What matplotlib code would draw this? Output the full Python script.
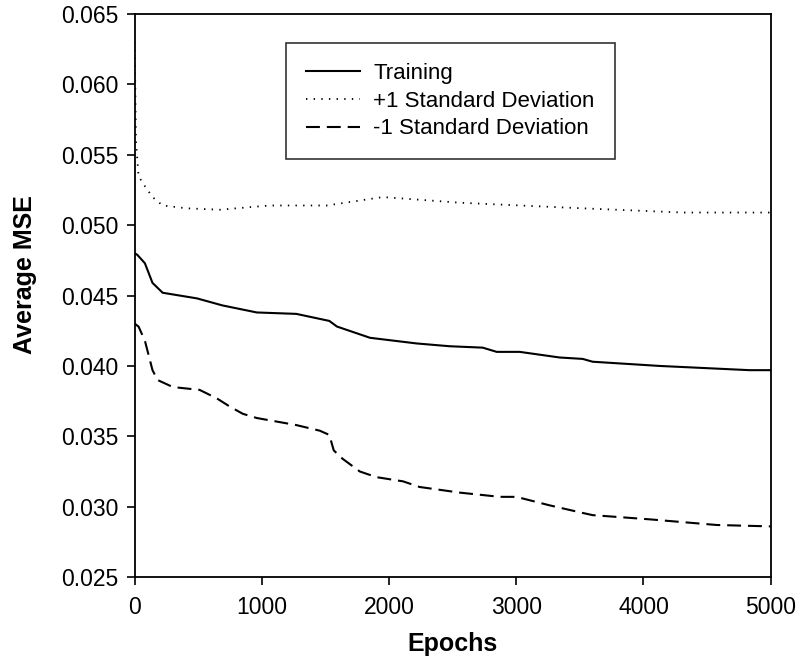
import matplotlib
matplotlib.use("Agg")
import matplotlib.pyplot as plt

plt.rcParams['font.family'] = ['Liberation Sans', 'DejaVu Sans']
plt.rcParams['lines.scale_dashes'] = False

# Data
epochs_train = [0, 20, 80, 140, 220, 490, 690, 960, 1270, 1530, 1590, 1850, 2215,
                2476, 2736, 2846, 3027, 3341, 3522, 3600, 4127, 4835, 5000]
train = [0.0480, 0.0479, 0.0473, 0.0459, 0.0452, 0.0448, 0.0443, 0.0438, 0.0437,
         0.0432, 0.0428, 0.0420, 0.0416, 0.0414, 0.0413, 0.0410, 0.0410, 0.0406,
         0.0405, 0.0403, 0.0400, 0.0397, 0.0397]

epochs_plus = [0, 10, 30, 63, 140, 220, 410, 670, 1060, 1400, 1510, 1950, 2555,
               2790, 3520, 4310, 5000]
plus_sd = [0.0630, 0.0560, 0.0535, 0.0530, 0.0520, 0.0514, 0.0512, 0.0511, 0.0514,
           0.0514, 0.0514, 0.0520, 0.0516, 0.0515, 0.0512, 0.0509, 0.0509]

epochs_minus = [0, 30, 80, 140, 180, 300, 510, 645, 750, 850, 960, 1270, 1455, 1530,
                1565, 1635, 1770, 1900, 2110, 2240, 2555, 2870, 3000, 3260, 3500,
                3600, 4050, 4575, 5000]
minus_sd = [0.0430, 0.0428, 0.0418, 0.0397, 0.0390, 0.0385, 0.0383, 0.0377, 0.0371,
            0.0366, 0.0363, 0.0358, 0.0354, 0.0351, 0.0340, 0.0334, 0.0325, 0.0321,
            0.0318, 0.0314, 0.0310, 0.0307, 0.0307, 0.0301, 0.0296, 0.0294, 0.0291,
            0.0287, 0.0286]

x_ticks = [0, 1000, 2000, 3000, 4000, 5000]
y_ticks = [0.025, 0.030, 0.035, 0.040, 0.045, 0.050, 0.055, 0.060, 0.065]

fig = plt.figure(figsize=(7.97, 6.71), dpi=100)
ax = fig.add_axes([0.169, 0.140, 0.798, 0.839])

ax.plot(epochs_train, train, color='black', lw=1.5, ls='-', label='Training')
ax.plot(epochs_plus, plus_sd, color='black', lw=1.3, ls=(0, (1.0, 4.5)),
        label='+1 Standard Deviation')
ax.plot(epochs_minus, minus_sd, color='black', lw=1.5, ls=(0, (10, 5)),
        label='-1 Standard Deviation')

ax.set_xlim(0, 5000)
ax.set_ylim(0.025, 0.065)
ax.set_xticks(x_ticks)
ax.set_yticks(y_ticks)
ax.set_xticklabels([str(v) for v in x_ticks])
ax.set_yticklabels(['%.3f' % v for v in y_ticks])
ax.tick_params(direction='out', length=5.5, width=1.2, labelsize=16.5)
ax.tick_params(axis='y', pad=6)
ax.tick_params(axis='x', pad=8)
for s in ax.spines.values():
    s.set_linewidth(1.3)

ax.set_xlabel('Epochs', fontsize=18, fontweight='bold')
ax.set_ylabel('Average MSE', fontsize=18, fontweight='bold')
ax.xaxis.label.set_va('center')
ax.yaxis.label.set_va('center')
ax.xaxis.set_label_coords(0.5, -0.119)
ax.yaxis.set_label_coords(-0.173, 0.538)

leg = ax.legend(loc='upper left', bbox_to_anchor=(0.2374, 0.9485), fontsize=16,
                frameon=True, fancybox=False, handlelength=2.45, borderpad=0.9,
                labelspacing=0.3, handletextpad=0.6, borderaxespad=0)
leg.get_frame().set_edgecolor('black')
leg.get_frame().set_linewidth(1.2)

fig.savefig('out.png', dpi=100)
